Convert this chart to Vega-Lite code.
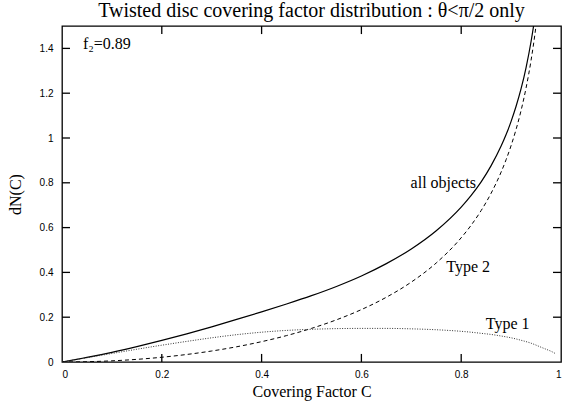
{
  "$schema": "https://vega.github.io/schema/vega-lite/v6.json",
  "width": 499,
  "height": 336,
  "autosize": {"type": "none"},
  "padding": {"left": 62, "top": 26, "right": 2, "bottom": 40},
  "background": "white",
  "config": {
    "view": {"stroke": "#000", "strokeWidth": 1.3},
    "axis": {"grid": false, "domain": false, "ticks": false, "labelColor": "#000", "labelFont": "Liberation Sans", "labelFontSize": 10, "titleFont": "Liberation Serif", "titleFontSize": 16, "titleFontWeight": "normal", "titleColor": "#000"}
  },
  "title": {"text": "Twisted disc covering factor distribution : θ<π/2 only", "font": "Liberation Serif", "fontSize": 20, "fontWeight": "normal", "color": "#000", "offset": 4},
  "datasets": {
    "curves": [
      {"C": 0, "v": 0, "s": "all"},
      {"C": 0.05, "v": 0.0203, "s": "all"},
      {"C": 0.1, "v": 0.0432, "s": "all"},
      {"C": 0.15, "v": 0.0688, "s": "all"},
      {"C": 0.2, "v": 0.0962, "s": "all"},
      {"C": 0.25, "v": 0.1256, "s": "all"},
      {"C": 0.3, "v": 0.1571, "s": "all"},
      {"C": 0.35, "v": 0.19, "s": "all"},
      {"C": 0.4, "v": 0.2238, "s": "all"},
      {"C": 0.45, "v": 0.2589, "s": "all"},
      {"C": 0.5, "v": 0.2961, "s": "all"},
      {"C": 0.55, "v": 0.3373, "s": "all"},
      {"C": 0.6, "v": 0.384, "s": "all"},
      {"C": 0.65, "v": 0.4391, "s": "all"},
      {"C": 0.7, "v": 0.5048, "s": "all"},
      {"C": 0.75, "v": 0.5862, "s": "all"},
      {"C": 0.8, "v": 0.6917, "s": "all"},
      {"C": 0.82, "v": 0.7439, "s": "all"},
      {"C": 0.84, "v": 0.8042, "s": "all"},
      {"C": 0.86, "v": 0.8767, "s": "all"},
      {"C": 0.88, "v": 0.9638, "s": "all"},
      {"C": 0.89, "v": 1.0153, "s": "all"},
      {"C": 0.9, "v": 1.0743, "s": "all"},
      {"C": 0.91, "v": 1.1416, "s": "all"},
      {"C": 0.92, "v": 1.22, "s": "all"},
      {"C": 0.93, "v": 1.3146, "s": "all"},
      {"C": 0.94, "v": 1.4308, "s": "all"},
      {"C": 0.95, "v": 1.578, "s": "all"},
      {"C": 0.96, "v": 1.7775, "s": "all"},
      {"C": 0, "v": 0, "s": "t2"},
      {"C": 0.05, "v": 0.0013, "s": "t2"},
      {"C": 0.1, "v": 0.0052, "s": "t2"},
      {"C": 0.15, "v": 0.0118, "s": "t2"},
      {"C": 0.2, "v": 0.0212, "s": "t2"},
      {"C": 0.25, "v": 0.0336, "s": "t2"},
      {"C": 0.3, "v": 0.0491, "s": "t2"},
      {"C": 0.35, "v": 0.068, "s": "t2"},
      {"C": 0.4, "v": 0.0908, "s": "t2"},
      {"C": 0.45, "v": 0.1179, "s": "t2"},
      {"C": 0.5, "v": 0.1501, "s": "t2"},
      {"C": 0.55, "v": 0.1883, "s": "t2"},
      {"C": 0.6, "v": 0.234, "s": "t2"},
      {"C": 0.65, "v": 0.2891, "s": "t2"},
      {"C": 0.7, "v": 0.3568, "s": "t2"},
      {"C": 0.75, "v": 0.4422, "s": "t2"},
      {"C": 0.8, "v": 0.5547, "s": "t2"},
      {"C": 0.82, "v": 0.6109, "s": "t2"},
      {"C": 0.84, "v": 0.6762, "s": "t2"},
      {"C": 0.86, "v": 0.7537, "s": "t2"},
      {"C": 0.88, "v": 0.8478, "s": "t2"},
      {"C": 0.89, "v": 0.9033, "s": "t2"},
      {"C": 0.9, "v": 0.9663, "s": "t2"},
      {"C": 0.91, "v": 1.0386, "s": "t2"},
      {"C": 0.92, "v": 1.123, "s": "t2"},
      {"C": 0.93, "v": 1.2236, "s": "t2"},
      {"C": 0.94, "v": 1.3468, "s": "t2"},
      {"C": 0.95, "v": 1.503, "s": "t2"},
      {"C": 0.96, "v": 1.7115, "s": "t2"},
      {"C": 0, "v": 0, "s": "t1"},
      {"C": 0.05, "v": 0.019, "s": "t1"},
      {"C": 0.1, "v": 0.038, "s": "t1"},
      {"C": 0.15, "v": 0.057, "s": "t1"},
      {"C": 0.2, "v": 0.075, "s": "t1"},
      {"C": 0.25, "v": 0.092, "s": "t1"},
      {"C": 0.3, "v": 0.108, "s": "t1"},
      {"C": 0.35, "v": 0.122, "s": "t1"},
      {"C": 0.4, "v": 0.133, "s": "t1"},
      {"C": 0.45, "v": 0.141, "s": "t1"},
      {"C": 0.5, "v": 0.146, "s": "t1"},
      {"C": 0.55, "v": 0.149, "s": "t1"},
      {"C": 0.6, "v": 0.15, "s": "t1"},
      {"C": 0.65, "v": 0.15, "s": "t1"},
      {"C": 0.7, "v": 0.148, "s": "t1"},
      {"C": 0.75, "v": 0.144, "s": "t1"},
      {"C": 0.8, "v": 0.137, "s": "t1"},
      {"C": 0.82, "v": 0.133, "s": "t1"},
      {"C": 0.84, "v": 0.128, "s": "t1"},
      {"C": 0.86, "v": 0.123, "s": "t1"},
      {"C": 0.88, "v": 0.116, "s": "t1"},
      {"C": 0.9, "v": 0.108, "s": "t1"},
      {"C": 0.92, "v": 0.097, "s": "t1"},
      {"C": 0.94, "v": 0.084, "s": "t1"},
      {"C": 0.96, "v": 0.066, "s": "t1"},
      {"C": 0.97, "v": 0.057, "s": "t1"},
      {"C": 0.98, "v": 0.048, "s": "t1"},
      {"C": 0.99, "v": 0.036, "s": "t1"}
    ],
    "labels": [
      {"C": 0.09, "v": 1.42, "t": "f₂=0.89"},
      {"C": 0.764, "v": 0.798, "t": "all objects"},
      {"C": 0.814, "v": 0.423, "t": "Type 2"},
      {"C": 0.893, "v": 0.17, "t": "Type 1"}
    ],
    "xticks": [{"C": 0.2}, {"C": 0.4}, {"C": 0.6}, {"C": 0.8}],
    "yticks": [{"v": 0.2}, {"v": 0.4}, {"v": 0.6}, {"v": 0.8}, {"v": 1}, {"v": 1.2}, {"v": 1.4}]
  },
  "layer": [
    {
      "data": {"name": "curves"},
      "transform": [{"filter": "datum.s === 'all'"}],
      "mark": {"type": "line", "color": "#000", "strokeWidth": 1.2, "clip": true, "interpolate": "monotone"},
      "encoding": {
        "x": {"field": "C", "type": "quantitative", "scale": {"domain": [0, 1], "nice": false, "zero": false}, "axis": {"orient": "bottom", "title": "Covering Factor C", "values": [0, 0.2, 0.4, 0.6, 0.8, 1], "format": "~g", "labelPadding": 7, "titlePadding": 4}},
        "y": {"field": "v", "type": "quantitative", "scale": {"domain": [0, 1.5], "nice": false, "zero": false}, "axis": {"orient": "left", "title": "dN(C)", "values": [0, 0.2, 0.4, 0.6, 0.8, 1, 1.2, 1.4], "format": "~g", "labelPadding": 9, "titlePadding": 16}}
      }
    },
    {
      "data": {"name": "curves"},
      "transform": [{"filter": "datum.s === 't2'"}],
      "mark": {"type": "line", "color": "#000", "strokeWidth": 1, "strokeDash": [4, 3], "clip": true, "interpolate": "monotone"},
      "encoding": {
        "x": {"field": "C", "type": "quantitative"},
        "y": {"field": "v", "type": "quantitative"}
      }
    },
    {
      "data": {"name": "curves"},
      "transform": [{"filter": "datum.s === 't1'"}],
      "mark": {"type": "line", "color": "#333", "strokeWidth": 1, "strokeDash": [1, 1.5], "clip": true, "interpolate": "monotone"},
      "encoding": {
        "x": {"field": "C", "type": "quantitative"},
        "y": {"field": "v", "type": "quantitative"}
      }
    },
    {
      "data": {"name": "xticks"},
      "mark": {"type": "rule", "color": "#000", "strokeWidth": 1.3},
      "encoding": {
        "x": {"field": "C", "type": "quantitative"},
        "y": {"datum": 0, "type": "quantitative"},
        "y2": {"datum": 0.036}
      }
    },
    {
      "data": {"name": "xticks"},
      "mark": {"type": "rule", "color": "#000", "strokeWidth": 1.3},
      "encoding": {
        "x": {"field": "C", "type": "quantitative"},
        "y": {"datum": 1.5, "type": "quantitative"},
        "y2": {"datum": 1.464}
      }
    },
    {
      "data": {"name": "yticks"},
      "mark": {"type": "rule", "color": "#000", "strokeWidth": 1.3},
      "encoding": {
        "y": {"field": "v", "type": "quantitative"},
        "x": {"datum": 0, "type": "quantitative"},
        "x2": {"datum": 0.016}
      }
    },
    {
      "data": {"name": "yticks"},
      "mark": {"type": "rule", "color": "#000", "strokeWidth": 1.3},
      "encoding": {
        "y": {"field": "v", "type": "quantitative"},
        "x": {"datum": 1, "type": "quantitative"},
        "x2": {"datum": 0.984}
      }
    },
    {
      "data": {"name": "labels"},
      "mark": {"type": "text", "font": "Liberation Serif", "fontSize": 16, "color": "#000", "align": "center", "baseline": "middle"},
      "encoding": {
        "x": {"field": "C", "type": "quantitative"},
        "y": {"field": "v", "type": "quantitative"},
        "text": {"field": "t"}
      }
    }
  ]
}
